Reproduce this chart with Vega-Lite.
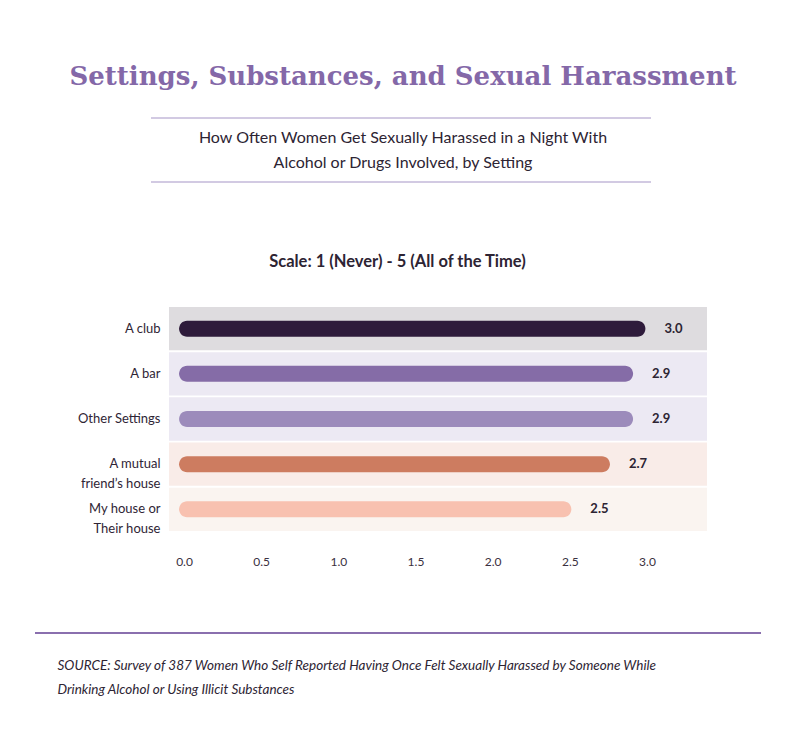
{
  "$schema": "https://vega.github.io/schema/vega-lite/v6.json",
  "autosize": {"type": "none"},
  "width": 538,
  "height": 224,
  "padding": {"left": 169, "top": 307, "right": 93, "bottom": 214},
  "background": "white",
  "config": {
    "view": {"stroke": null},
    "font": "Lato",
    "text": {"font": "Lato"}
  },
  "title": {
    "text": "Settings, Substances, and Sexual Harassment",
    "subtitle": ["How Often Women Get Sexually Harassed in a Night With", "Alcohol or Drugs Involved, by Setting"],
    "anchor": "middle",
    "frame": "group",
    "dx": -35,
    "offset": -53,
    "font": "DejaVu Serif",
    "fontSize": 26,
    "fontWeight": "bold",
    "color": "#8468a8",
    "subtitleFont": "Lato",
    "subtitleFontSize": 16,
    "subtitleColor": "#2d2433",
    "subtitleLineHeight": 25,
    "subtitlePadding": 40
  },
  "data": {
    "values": [
      {"setting": "A club", "score": 2.99, "label": "3.0"},
      {"setting": "A bar", "score": 2.91, "label": "2.9"},
      {"setting": "Other Settings", "score": 2.91, "label": "2.9"},
      {"setting": "A mutual friend’s house", "score": 2.76, "label": "2.7"},
      {"setting": "My house or Their house", "score": 2.51, "label": "2.5"}
    ]
  },
  "resolve": {"axis": {"x": "independent"}, "scale": {"color": "independent"}},
  "layer": [
    {
      "mark": {"type": "bar"},
      "encoding": {
        "y": {
          "field": "setting",
          "type": "nominal",
          "sort": null,
          "scale": {"paddingInner": 0.04, "paddingOuter": 0},
          "axis": {
            "title": null,
            "domain": false,
            "ticks": false,
            "labelPadding": 9,
            "labelFontSize": 13,
            "labelColor": "#2f2535",
            "labelFont": "Lato",
            "labelLineHeight": 20,
            "labelExpr": "datum.value == 'A mutual friend’s house' ? ['A mutual', 'friend’s house'] : datum.value == 'My house or Their house' ? ['My house or', 'Their house'] : datum.value"
          }
        },
        "x": {
          "datum": -0.0972,
          "type": "quantitative",
          "scale": {"domain": [-0.0972, 3.389], "nice": false, "zero": false},
          "axis": {
            "values": [0, 0.5, 1, 1.5, 2, 2.5, 3],
            "format": ".1f",
            "domain": false,
            "ticks": false,
            "grid": false,
            "labelPadding": 25,
            "labelFontSize": 12,
            "labelColor": "#3a3040",
            "labelFont": "Lato",
            "title": ["SOURCE: Survey of 387 Women Who Self Reported Having Once Felt Sexually Harassed by Someone While", "Drinking Alcohol or Using Illicit Substances"],
            "titleFont": "Lato",
            "titleFontStyle": "italic",
            "titleFontWeight": "normal",
            "titleFontSize": 13.5,
            "titleColor": "#2d2433",
            "titleAlign": "left",
            "titleAnchor": "start",
            "titleBaseline": "alphabetic",
            "titleLineHeight": 24,
            "titleX": -112,
            "titleY": 138
          }
        },
        "x2": {"datum": 3.389},
        "color": {
          "field": "setting",
          "type": "nominal",
          "legend": null,
          "scale": {
            "domain": ["A club", "A bar", "Other Settings", "A mutual friend’s house", "My house or Their house"],
            "range": ["#dedcdf", "#ece9f3", "#ece9f3", "#f9ece8", "#faf4f0"]
          }
        }
      }
    },
    {
      "mark": {"type": "bar", "cornerRadius": 8},
      "encoding": {
        "y": {"field": "setting", "type": "nominal", "sort": null},
        "x": {"field": "score", "type": "quantitative", "axis": null},
        "x2": {"datum": -0.032},
        "size": {"value": 16},
        "color": {
          "field": "setting",
          "type": "nominal",
          "legend": null,
          "scale": {
            "domain": ["A club", "A bar", "Other Settings", "A mutual friend’s house", "My house or Their house"],
            "range": ["#2e1b3b", "#856ca7", "#9c8bbb", "#cd7c60", "#f8c1b0"]
          }
        }
      }
    },
    {
      "mark": {"type": "text", "align": "left", "dx": 19, "fontSize": 13, "fontWeight": "bold", "font": "Lato", "color": "#2d2433"},
      "encoding": {
        "y": {"field": "setting", "type": "nominal", "sort": null},
        "x": {
          "field": "score",
          "type": "quantitative",
          "axis": {
            "orient": "top",
            "labels": false,
            "ticks": false,
            "domain": false,
            "grid": false,
            "title": "Scale: 1 (Never) - 5 (All of the Time)",
            "titleFont": "Lato",
            "titleFontSize": 16.5,
            "titleFontWeight": "bold",
            "titleColor": "#2d2433",
            "titleAlign": "center",
            "titleAnchor": "start",
            "titleBaseline": "alphabetic",
            "titleX": 228,
            "titleY": -41
          }
        },
        "text": {"field": "label"}
      }
    },
    {
      "data": {"values": [{}]},
      "mark": {"type": "rule", "color": "#a595c6", "strokeWidth": 1},
      "encoding": {"x": {"value": -18}, "x2": {"value": 482}, "y": {"value": -189}}
    },
    {
      "data": {"values": [{}]},
      "mark": {"type": "rule", "color": "#a595c6", "strokeWidth": 1},
      "encoding": {"x": {"value": -18}, "x2": {"value": 482}, "y": {"value": -125}}
    },
    {
      "data": {"values": [{}]},
      "mark": {"type": "rule", "color": "#8a6fae", "strokeWidth": 2},
      "encoding": {"x": {"value": -134}, "x2": {"value": 592}, "y": {"value": 326}}
    }
  ]
}
